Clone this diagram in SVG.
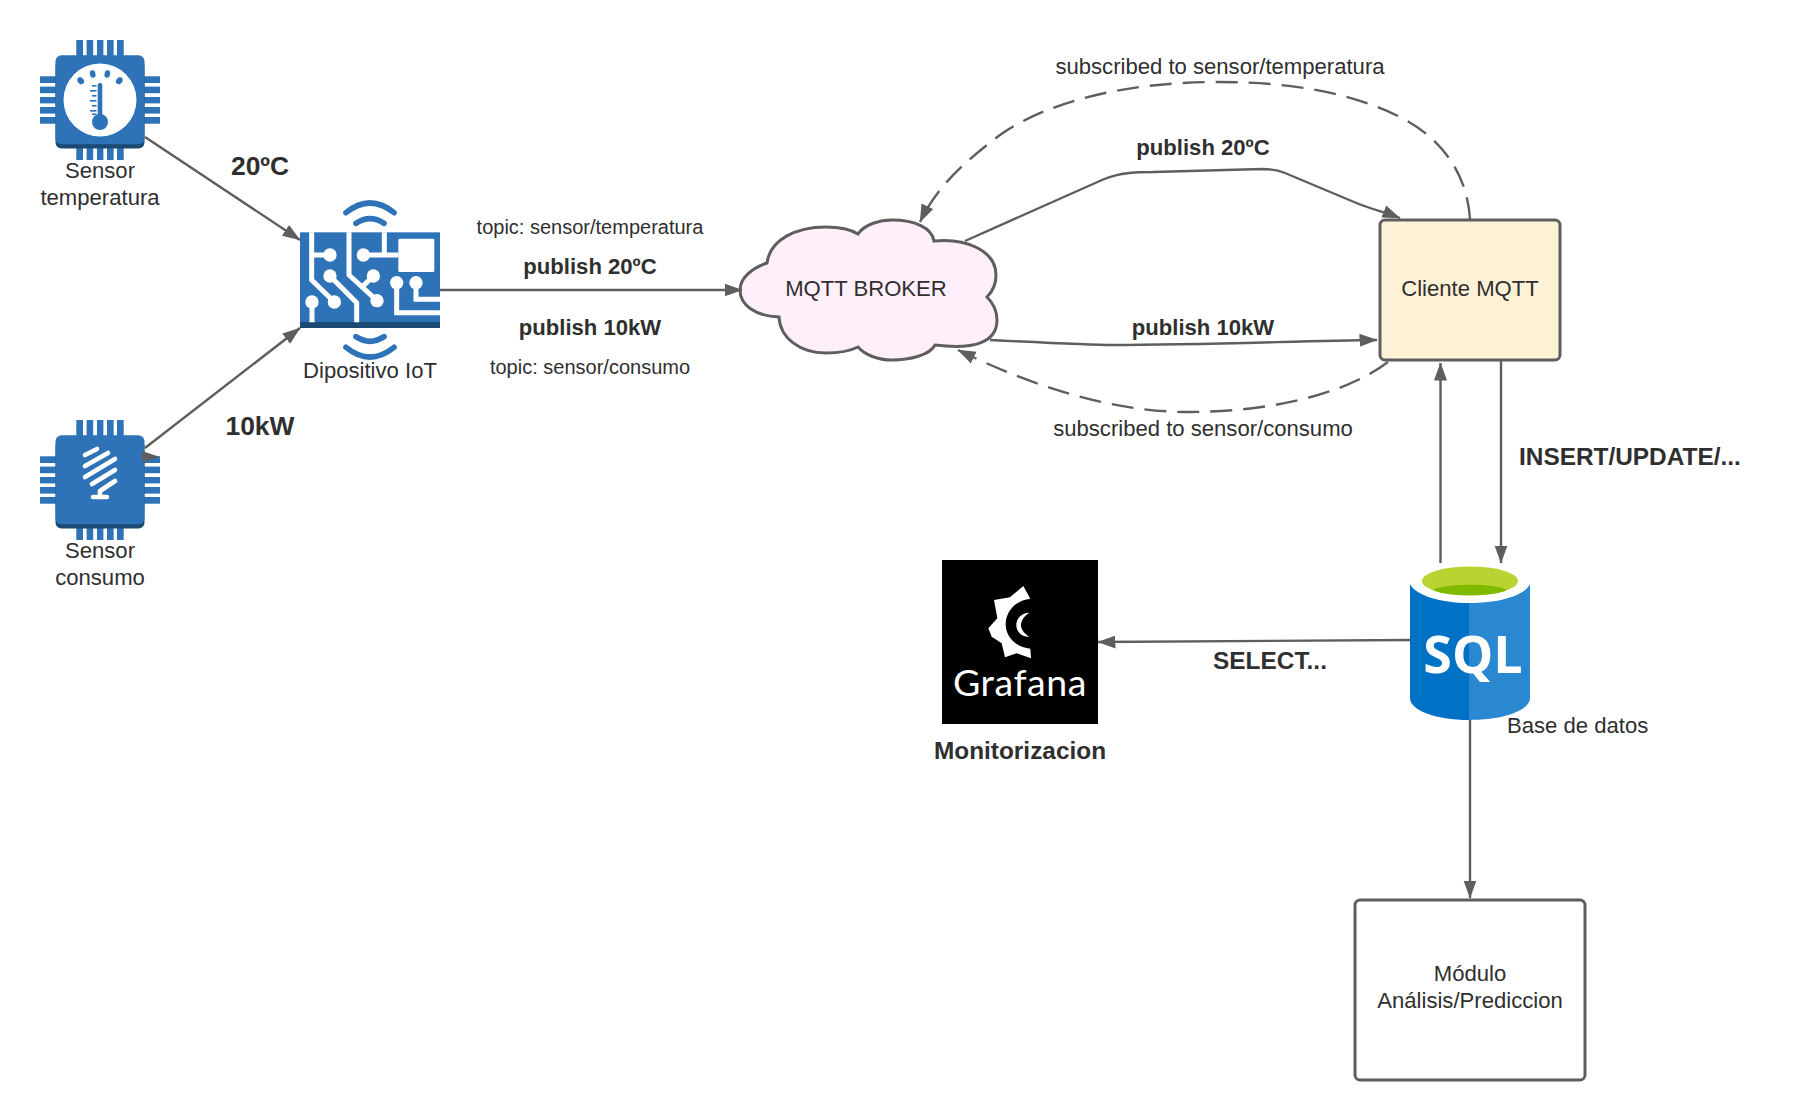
<svg xmlns="http://www.w3.org/2000/svg" xmlns:xlink="http://www.w3.org/1999/xlink" width="1820" height="1120" viewBox="0 0 1820 1120">
<style>
text{font-family:"Liberation Sans",Arial,sans-serif;fill:#2f2f2f;font-size:22.1px}
.m{text-anchor:middle}
.s{font-size:20px}
.b22{font-size:22.1px;font-weight:bold}
.b24{font-size:24.4px;font-weight:bold}
.b26{font-size:26.4px;font-weight:bold}
.c{fill:none;stroke:#5e5e5e;stroke-width:2.4}
.d{stroke-dasharray:22 11}
.shape{stroke:#5e5e5e;stroke-width:3}
.pin{fill:#2e73b8}
.tr{fill:none;stroke:#fff;stroke-width:15}
.dot{fill:#fff}
.wifi{fill:none;stroke:#2e73b8;stroke-width:17;stroke-linecap:round}
.bulb{fill:none;stroke:#fff;stroke-width:4.6;stroke-linecap:round}
</style>
<defs>
<marker id="arrow" viewBox="0 0 18 14" refX="17.5" refY="7" markerWidth="18" markerHeight="14" markerUnits="userSpaceOnUse" orient="auto"><path d="M0 0.5L18 7L0 13.5Z" fill="#5e5e5e"/></marker>
<g id="chip">
<g class="pin">
<rect x="76.3" y="40" width="6.7" height="16"/><rect x="86.6" y="40" width="6.6" height="16"/><rect x="97" y="40" width="6.4" height="16"/><rect x="107" y="40" width="6.6" height="16"/><rect x="117" y="40" width="6.7" height="16"/>
<rect x="76.3" y="144" width="6.7" height="16"/><rect x="86.6" y="144" width="6.6" height="16"/><rect x="97" y="144" width="6.4" height="16"/><rect x="107" y="144" width="6.6" height="16"/><rect x="117" y="144" width="6.7" height="16"/>
<rect x="40" y="76.3" width="16" height="6.7"/><rect x="40" y="86.6" width="16" height="6.6"/><rect x="40" y="97" width="16" height="6.4"/><rect x="40" y="107" width="16" height="6.6"/><rect x="40" y="117" width="16" height="6.7"/>
<rect x="144" y="76.3" width="16" height="6.7"/><rect x="144" y="86.6" width="16" height="6.6"/><rect x="144" y="97" width="16" height="6.4"/><rect x="144" y="107" width="16" height="6.6"/><rect x="144" y="117" width="16" height="6.7"/>
</g>
<rect x="55.5" y="60" width="89" height="88.5" rx="6" fill="#1b4b73"/>
<rect x="55.5" y="55.3" width="89" height="89" rx="6" fill="#2e73b8"/>
</g>
</defs>
<rect width="1820" height="1120" fill="#fff"/>

<g id="sensor-temperatura">
<use href="#chip"/>
<circle cx="100" cy="100" r="36.500" fill="#fff"/>
<g fill="#2e73b8">
<ellipse cx="80.700" cy="80.700" rx="3" ry="3.800" transform="rotate(-40 80.700 80.700)"/>
<ellipse cx="92.700" cy="74" rx="2.800" ry="3.800" transform="rotate(-12 92.700 74)"/>
<ellipse cx="107.300" cy="74" rx="2.800" ry="3.800" transform="rotate(12 107.300 74)"/>
<ellipse cx="119.300" cy="80.700" rx="3" ry="3.800" transform="rotate(40 119.300 80.700)"/>
<rect x="97.700" y="83" width="4.600" height="40" rx="2"/>
<circle cx="100" cy="122" r="8"/>
<rect x="92" y="85" width="4.500" height="1.600"/><rect x="90" y="90" width="6.500" height="1.600"/><rect x="92" y="95" width="4.500" height="1.600"/><rect x="90" y="100" width="6.500" height="1.600"/><rect x="92" y="105" width="4.500" height="1.600"/><rect x="90" y="110" width="6.500" height="1.600"/><rect x="92" y="113.500" width="4.500" height="1.600"/>
</g>
<text class="m" x="100" y="178">Sensor</text>
<text class="m" x="100" y="205">temperatura</text>
</g>

<g id="sensor-consumo">
<use href="#chip" y="380"/>
<path class="bulb" d="M85 455L97 449M85 466L108 453M85 477L115 459M92 484L115 470M100 491L115 481M100 491V497M93 497H107"/>
<text class="m" x="100" y="558">Sensor</text>
<text class="m" x="100" y="585">consumo</text>
</g>

<g id="dispositivo-iot">
<g transform="translate(280 180) scale(.33333)">
<rect x="60" y="157" width="420" height="270" fill="#2e73b8"/>
<rect x="60" y="426" width="420" height="18" fill="#1b4b73"/>
<path class="wifi" d="M198 98Q270 40 342 98M228 130Q270 102 312 130M198 502Q270 560 342 502M228 470Q270 498 312 470"/>
<rect x="355" y="176" width="108" height="100" rx="4" class="dot"/>
<path class="tr" d="M95 157V300L163 366M95 225H150M96 366V427M150 288L230 368V427M207 157V285L291 362M280 288L245 322M250 225H355M313 157V225M350 308V398H480M408 308V358H480"/>
<g class="dot"><circle cx="150" cy="225" r="20"/><circle cx="163" cy="366" r="20"/><circle cx="96" cy="366" r="20"/><circle cx="150" cy="288" r="20"/><circle cx="291" cy="362" r="20"/><circle cx="280" cy="288" r="20"/><circle cx="250" cy="225" r="20"/><circle cx="350" cy="308" r="20"/><circle cx="408" cy="308" r="20"/></g>
</g>
<text class="m" x="370" y="378">Dipositivo IoT</text>
</g>

<g id="mqtt-broker">
<path class="shape" fill="#ffeffb" d="M767 263C770 240 795 227 826 227C840 227 850 229 858 234C865 224 880 220 892 220C915 220 932 228 934 241C965 238 996 250 996 275C996 285 992 292 987 297C995 305 997 312 997 320C997 342 975 350 935 345C930 355 910 360 892 360C878 360 865 355 858 347C850 351 838 353 826 353C800 353 780 338 779 317C755 316 740 305 740 290C740 278 752 268 767 263Z"/>
<text class="m" x="866" y="296">MQTT BROKER</text>
</g>

<g id="cliente-mqtt">
<rect class="shape" x="1380" y="220" width="180" height="140" rx="5" fill="#fff1d6"/>
<text class="m" x="1470" y="296">Cliente MQTT</text>
</g>

<g id="base-de-datos">
<path fill="#0072c6" d="M1410 584V698C1410 710 1435 720 1469 720V603C1440 603 1415 595 1410 584Z"/>
<path fill="#2a88d0" d="M1530 584V698C1530 710 1505 720 1469 720V603C1500 603 1525 595 1530 584Z"/>
<ellipse cx="1470" cy="581" rx="48" ry="14.500" fill="#b8d432"/>
<path fill="#7fba00" d="M1433 590C1445 583 1495 583 1507 590C1495 597 1445 597 1433 590Z"/>
<text x="1473" y="673" text-anchor="middle" style="font-family:'Open Sans',sans-serif;font-weight:bold;font-size:52px;fill:#fff">SQL</text>
<text x="1507" y="733">Base de datos</text>
</g>

<g id="grafana">
<rect x="942" y="560" width="156" height="164" fill="#000"/>
<g transform="translate(920 540) scale(.33333)">
<path fill="#fff" fill-rule="evenodd" d="M310 138L331 176C290 180 257 212 257 253C257 292 290 323 331 326L333 355L290 340L255 352L245 310L215 290L205 265L232 235L222 180L270 172ZM328 218C305 218 289 235 289 255C289 275 305 292 328 290C312 280 303 268 303 255C303 242 312 228 328 218Z"/>
</g>
<text x="1020" y="696" text-anchor="middle" style="font-family:Lato,sans-serif;font-size:37.500px;letter-spacing:.6px;fill:#fff">Grafana</text>
<text class="m b24" x="1020" y="759">Monitorizacion</text>
</g>

<g id="modulo-analisis">
<rect class="shape" x="1355" y="900" width="230" height="180" rx="5" fill="#fff"/>
<text class="m" x="1470" y="981">Módulo</text>
<text class="m" x="1470" y="1008">Análisis/Prediccion</text>
</g>

<g id="connectors">
<path class="c" d="M145 137L300 240" marker-end="url(#arrow)"/>
<path class="c" d="M145 448L300 328" marker-end="url(#arrow)"/>
<path d="M142 451L160 457L142 462Z" fill="#5e5e5e"/>
<path class="c" d="M440 290H742" marker-end="url(#arrow)"/>
<path class="c" d="M965 241L1102 180C1120 172 1140 172 1153 172L1262 169C1272 169 1280 171 1285 173L1354 202C1370 209 1385 212 1400 218" marker-end="url(#arrow)"/>
<path class="c" d="M990 340C1050 343 1090 345 1113 345C1200 345 1300 341 1377 340" marker-end="url(#arrow)"/>
<path class="c d" d="M1470 219C1467 172 1440 137 1400 117C1340 87 1270 82 1217 82C1130 82 1050 100 1000 135C960 165 935 190 920 222" marker-end="url(#arrow)"/>
<path class="c d" d="M1388 362C1340 398 1260 412 1188 412C1110 412 1030 385 958 350" marker-end="url(#arrow)"/>
<path class="c" d="M1440.500 563V363" marker-end="url(#arrow)"/>
<path class="c" d="M1501 361V563" marker-end="url(#arrow)"/>
<path class="c" d="M1411 640L1098 642" marker-end="url(#arrow)"/>
<path class="c" d="M1470 720V898" marker-end="url(#arrow)"/>
</g>

<g id="labels">
<text class="m b26" x="260" y="175">20ºC</text>
<text class="m b26" x="260" y="435">10kW</text>
<text class="m s" x="590" y="234">topic: sensor/temperatura</text>
<text class="m b22" x="590" y="274">publish 20ºC</text>
<text class="m b22" x="590" y="335">publish 10kW</text>
<text class="m s" x="590" y="374">topic: sensor/consumo</text>
<text class="m" x="1220" y="74">subscribed to sensor/temperatura</text>
<text class="m b22" x="1203" y="155">publish 20ºC</text>
<text class="m b22" x="1203" y="335">publish 10kW</text>
<text class="m" x="1203" y="436">subscribed to sensor/consumo</text>
<text class="b24" x="1519" y="465">INSERT/UPDATE/...</text>
<text class="m b24" x="1270" y="669">SELECT...</text>
</g>
</svg>
